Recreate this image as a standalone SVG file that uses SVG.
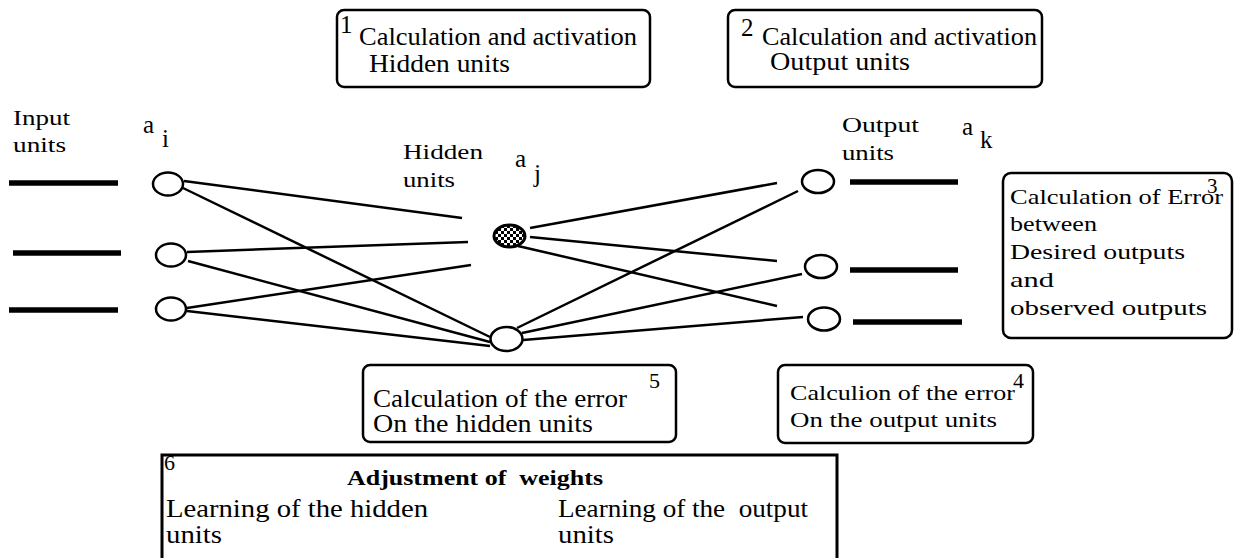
<svg xmlns="http://www.w3.org/2000/svg" width="1234" height="558" viewBox="0 0 1234 558">
<style>
text { font-family: "Liberation Serif", "Times New Roman", serif; fill: #000; white-space: pre; }
.t25 { font-size: 25px; }
.t22 { font-size: 22px; }
.t21 { font-size: 21px; }
.t20 { font-size: 20px; }
.b { font-weight: bold; }
.box { fill: #fff; stroke: #000; stroke-width: 2.5; }
.box6 { fill: #fff; stroke: #000; stroke-width: 3; }
.unit { fill: #fff; stroke: #000; stroke-width: 2.5; }
.hid { fill: url(#chk); stroke: #000; stroke-width: 3; }
.bar { stroke: #000; stroke-width: 5.5; }
.edge { stroke: #000; stroke-width: 2.5; fill: none; }
</style>
<defs>
<pattern id="chk" width="6" height="6" patternUnits="userSpaceOnUse">
<rect width="6" height="6" fill="#fff"/>
<rect width="3" height="3" fill="#000"/>
<rect x="3" y="3" width="3" height="3" fill="#000"/>
</pattern>
</defs>
<rect width="1234" height="558" fill="#fff"/>

<g id="connectors">
<line class="edge" x1="184" y1="181" x2="462" y2="218"/>
<line class="edge" x1="183" y1="188" x2="490" y2="337"/>
<line class="edge" x1="187" y1="252" x2="468" y2="242"/>
<line class="edge" x1="188" y1="261" x2="490" y2="342"/>
<line class="edge" x1="187" y1="308" x2="471" y2="265"/>
<line class="edge" x1="187" y1="311" x2="490" y2="346"/>
<line class="edge" x1="530" y1="228" x2="777" y2="183"/>
<line class="edge" x1="530" y1="237" x2="777" y2="261"/>
<line class="edge" x1="518" y1="246" x2="777" y2="306"/>
<line class="edge" x1="517" y1="328" x2="798" y2="191"/>
<line class="edge" x1="522" y1="333" x2="802" y2="274"/>
<line class="edge" x1="523" y1="340" x2="803" y2="317"/>
</g>

<g id="input-units">
<text class="t21" x="13" y="125" textLength="57" lengthAdjust="spacingAndGlyphs">Input</text>
<text class="t21" x="13" y="152" textLength="53" lengthAdjust="spacingAndGlyphs">units</text>
<text class="t25" x="143" y="133">a<tspan x="162" y="147">i</tspan></text>
<line class="bar" x1="9" y1="183" x2="118" y2="183"/>
<line class="bar" x1="13" y1="253" x2="121" y2="253"/>
<line class="bar" x1="9" y1="310" x2="118" y2="310"/>
</g>
<g id="input-1"><ellipse class="unit" cx="168" cy="184" rx="15" ry="11.5"/></g>
<g id="input-2"><ellipse class="unit" cx="171" cy="255" rx="15" ry="11.5"/></g>
<g id="input-3"><ellipse class="unit" cx="171" cy="309" rx="15" ry="11.5"/></g>

<g id="hidden-label">
<text class="t21" x="403" y="159" textLength="80" lengthAdjust="spacingAndGlyphs">Hidden</text>
<text class="t21" x="403" y="187" textLength="52" lengthAdjust="spacingAndGlyphs">units</text>
<text class="t25" x="515" y="167">a<tspan x="534" y="182">j</tspan></text>
</g>
<g id="hidden-unit"><ellipse class="hid" cx="509.5" cy="236" rx="15.5" ry="11"/></g>
<g id="error-unit"><ellipse class="unit" cx="506.5" cy="339" rx="16" ry="12"/></g>

<g id="output-units">
<text class="t21" x="842" y="132" textLength="77" lengthAdjust="spacingAndGlyphs">Output</text>
<text class="t21" x="842" y="160" textLength="52" lengthAdjust="spacingAndGlyphs">units</text>
<text class="t25" x="962" y="135">a<tspan x="980" y="148">k</tspan></text>
<line class="bar" x1="850" y1="182" x2="958" y2="182"/>
<line class="bar" x1="850" y1="270" x2="958" y2="270"/>
<line class="bar" x1="853" y1="322" x2="962" y2="322"/>
</g>
<g id="output-1"><ellipse class="unit" cx="818" cy="181.5" rx="16" ry="11.5"/></g>
<g id="output-2"><ellipse class="unit" cx="821" cy="266.5" rx="16" ry="11.5"/></g>
<g id="output-3"><ellipse class="unit" cx="824" cy="319" rx="16" ry="11.5"/></g>

<g id="box1">
<rect class="box" x="337" y="10" width="313" height="77" rx="7"/>
<text class="t25" x="340" y="33">1</text>
<text class="t25" x="359" y="45" textLength="278" lengthAdjust="spacingAndGlyphs">Calculation and activation</text>
<text class="t25" x="369" y="72" textLength="141" lengthAdjust="spacingAndGlyphs">Hidden units</text>
</g>

<g id="box2">
<rect class="box" x="728" y="10" width="314" height="77" rx="7"/>
<text class="t25" x="741" y="36">2</text>
<text class="t25" x="762" y="45" textLength="275" lengthAdjust="spacingAndGlyphs">Calculation and activation</text>
<text class="t25" x="770" y="70" textLength="140" lengthAdjust="spacingAndGlyphs">Output units</text>
</g>

<g id="box3">
<rect class="box" x="1003" y="173" width="229" height="165" rx="8"/>
<text class="t22" x="1010" y="204" textLength="213" lengthAdjust="spacingAndGlyphs">Calculation of Error</text>
<text class="t21" x="1207" y="193">3</text>
<text class="t22" x="1010" y="231" textLength="87" lengthAdjust="spacingAndGlyphs">between</text>
<text class="t22" x="1010" y="259" textLength="175" lengthAdjust="spacingAndGlyphs">Desired outputs</text>
<text class="t22" x="1010" y="287" textLength="44" lengthAdjust="spacingAndGlyphs">and</text>
<text class="t22" x="1010" y="315" textLength="197" lengthAdjust="spacingAndGlyphs">observed outputs</text>
</g>

<g id="box4">
<rect class="box" x="778" y="365" width="255" height="78" rx="7"/>
<text class="t22" x="1013" y="388">4</text>
<text class="t22" x="790" y="400" textLength="225" lengthAdjust="spacingAndGlyphs">Calculion of the error</text>
<text class="t22" x="790" y="427" textLength="207" lengthAdjust="spacingAndGlyphs">On the output units</text>
</g>

<g id="box5">
<rect class="box" x="363" y="365" width="313" height="77" rx="7"/>
<text class="t25" x="373" y="407" textLength="254" lengthAdjust="spacingAndGlyphs">Calculation of the error</text>
<text class="t22" x="649" y="388">5</text>
<text class="t25" x="373" y="432" textLength="220" lengthAdjust="spacingAndGlyphs">On the hidden units</text>
</g>

<g id="box6">
<rect class="box6" x="162" y="455" width="675" height="110"/>
<text class="t22" x="164" y="470">6</text>
<text class="t20 b" x="347" y="485" textLength="256" lengthAdjust="spacingAndGlyphs">Adjustment of  weights</text>
<text class="t25" x="166" y="517" textLength="262" lengthAdjust="spacingAndGlyphs">Learning of the hidden</text>
<text class="t25" x="166" y="543" textLength="56" lengthAdjust="spacingAndGlyphs">units</text>
<text class="t25" x="558" y="517" textLength="250" lengthAdjust="spacingAndGlyphs">Learning of the  output</text>
<text class="t25" x="558" y="543" textLength="56" lengthAdjust="spacingAndGlyphs">units</text>
</g>
</svg>
